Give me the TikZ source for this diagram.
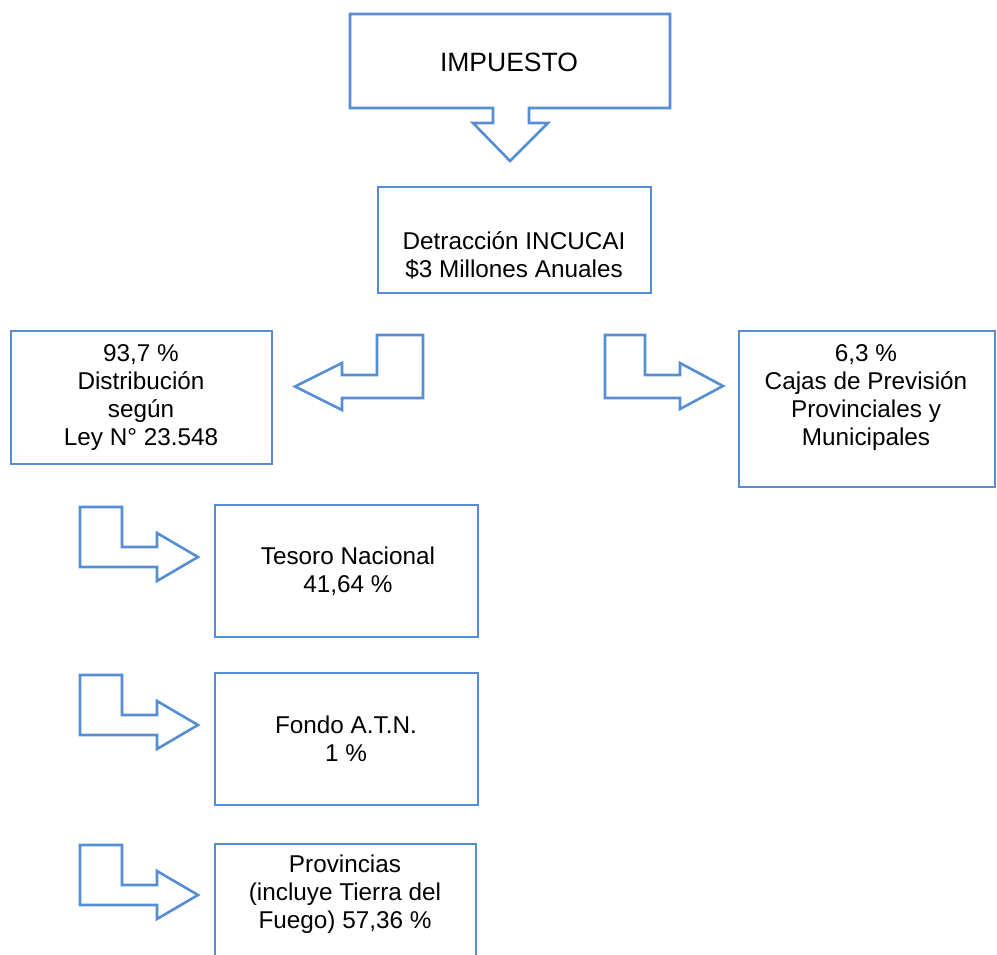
\documentclass[tikz,border=0pt]{standalone}
\usepackage{fontspec}
\setmainfont{Liberation Sans}
\definecolor{lineblue}{RGB}{85,142,213}
\begin{document}
\begin{tikzpicture}[x=1pt,y=-1pt,
  outl/.style={draw=lineblue,line width=2.6pt,line join=miter,fill=white},
  boxtxt/.style={align=center,font=\fontsize{24.3}{28}\selectfont,text=black,inner sep=0pt},
  boxframe/.style={draw=lineblue,line width=2.6pt,inner sep=0pt}]
\useasboundingbox (0,0) rectangle (997,955);
% IMPUESTO box with down arrow
\draw[outl] (350,108) -- (350,14) -- (670,14) -- (670,108) -- (529,108) -- (529,123) -- (548,123)
  -- (510,161) -- (473,123) -- (493,123) -- (493,108) -- cycle;
\node[boxtxt,font=\fontsize{26.5}{28}\selectfont] (imp) at (509,62) {IMPUESTO};
% Detraccion
\node[boxframe,minimum width=273pt,minimum height=106pt] (det) at (514.5,240) {};
\node[boxtxt] (dett) at (514,255) {Detracción INCUCAI\\\$3 Millones Anuales};
% left box
\node[boxframe,minimum width=261pt,minimum height=133pt] (lb) at (141.5,397.5) {};
\node[boxtxt] (lbt) at (141,398) {93,7 \%\\Distribución\\según\\Ley N° 23.548};
% right box
\node[boxframe,minimum width=256pt,minimum height=156pt] (rb) at (867,409) {};
\node[boxtxt] (rbt) at (866,398) {6,3 \%\\Cajas de Previsión\\Provinciales y\\Municipales};
% left arrow
\draw[outl] (377,335) -- (423,335) -- (423,398) -- (342,398) -- (342,410) -- (295,386.5) -- (342,363) -- (342,375) -- (377,375) -- cycle;
% right arrow
\draw[outl] (605,335) -- (645,335) -- (645,375) -- (680,375) -- (680,363) -- (723,386) -- (680,409) -- (680,398) -- (605,398) -- cycle;
% lower boxes
\node[boxframe,minimum width=263pt,minimum height=132pt] (tes) at (346.5,571) {};
\node[boxtxt] (test) at (348,571) {Tesoro Nacional\\41,64 \%};
\node[boxframe,minimum width=263pt,minimum height=132pt] (fon) at (346.5,739) {};
\node[boxtxt] (font) at (346,739) {Fondo A.T.N.\\1 \%};
\draw[draw=lineblue,line width=2.6pt] (215,965) -- (215,844) -- (476,844) -- (476,965);
\node[boxtxt] (prov) at (345,894) {Provincias\\(incluye Tierra del\\Fuego) 57,36 \%};
% lower arrows
\foreach \dy in {0,168,338}{
  \draw[outl] (80,507+\dy) -- (122,507+\dy) -- (122,547+\dy) -- (157,547+\dy) -- (157,533+\dy)
    -- (198,557+\dy) -- (157,581+\dy) -- (157,567+\dy) -- (80,567+\dy) -- cycle;
}
\end{tikzpicture}
\end{document}
